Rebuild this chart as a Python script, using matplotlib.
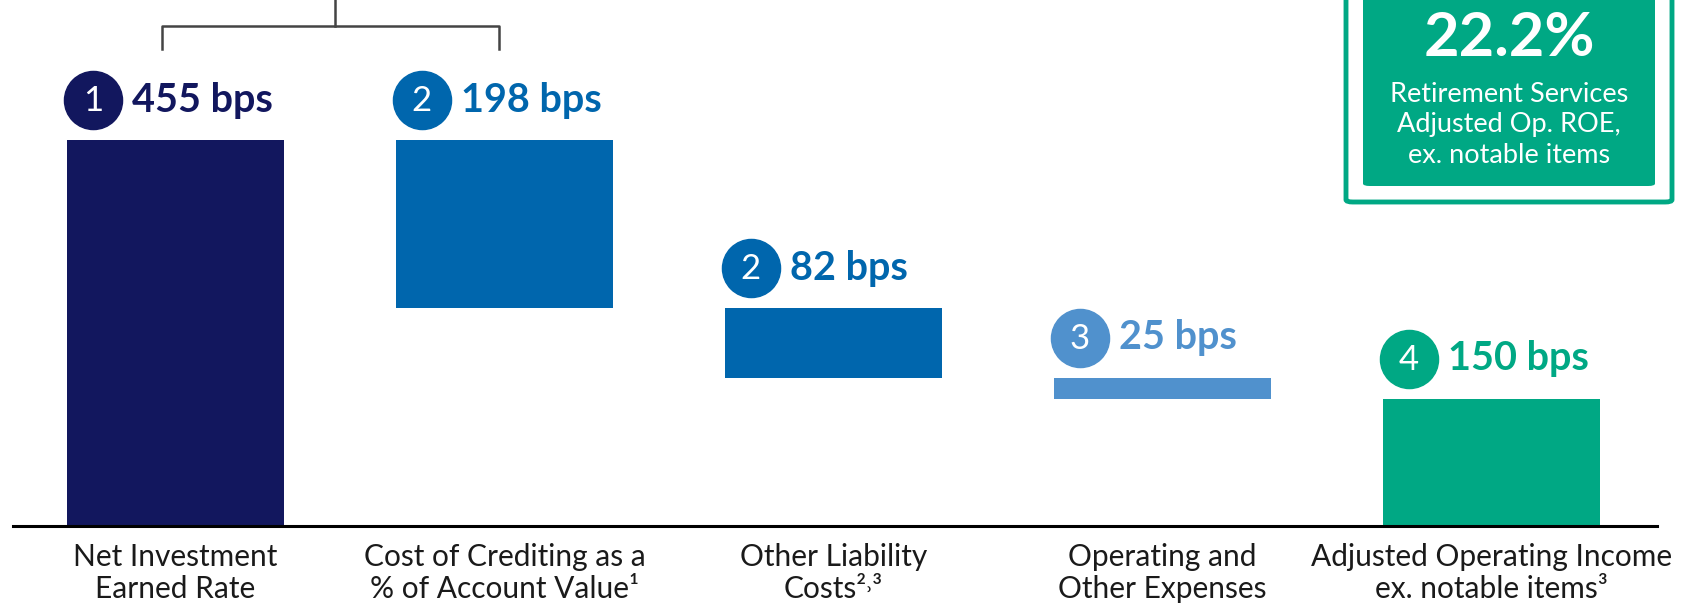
import matplotlib
matplotlib.use("Agg")
import matplotlib.pyplot as plt
import matplotlib.patches as mpatches
import numpy as np

plt.rcParams['font.family'] = ['Lato', 'DejaVu Sans']

# data
categories = [("Net Investment", "Earned Rate"),
              ("Cost of Crediting as a", "% of Account Value\u00b9"),
              ("Other Liability", "Costs\u00b2\u02d2\u00b3"),
              ("Operating and", "Other Expenses"),
              ("Adjusted Operating Income", "ex. notable items\u00b3")]
values = [455, 198, 82, 25, 150]
steps = ["1", "2", "2", "3", "4"]
colors = ["#12175E", "#0066AD", "#0066AD", "#5091CD", "#00A884"]
roe_value = "22.2%"
roe_lines = ["Retirement Services", "Adjusted Op. ROE,", "ex. notable items"]

# waterfall bottoms
bottoms = [0]
level = values[0]
for v in values[1:-1]:
    level -= v
    bottoms.append(level)
bottoms.append(0)
tops = [b + v for b, v in zip(bottoms, values)]

W, H = 1694, 603
fig = plt.figure(figsize=(W / 100, H / 100), dpi=100)
ax = fig.add_axes([0, 0, 1, 1])
ax.set_xlim(-0.533, 4.615)
ax.set_ylim(-90.8, 620.3)
ax.axis('off')

x = np.arange(len(values))
bw = 0.66
ax.bar(x, values, bottom=bottoms, width=bw, color=colors, zorder=2)

# baseline
ax.axhline(0, xmin=13 / W, xmax=1657 / W, color='black', lw=2.2, zorder=3)

# step circles + value labels
for i in range(len(values)):
    left = x[i] - bw / 2
    ly = tops[i] + 47
    ax.scatter(left + 0.079, ly, s=1750, color=colors[i], zorder=4, clip_on=False)
    ax.text(left + 0.079, ly - 1, steps[i], color='white', fontsize=25,
            ha='center', va='center', zorder=5)
    ax.text(left + 0.198, ly, f"{values[i]} bps", color=colors[i], fontsize=28.5,
            fontweight='bold', ha='left', va='center', zorder=5)
    # category label, two lines (pixel rows 557 and 589 from top)
    for j, line in enumerate(categories[i]):
        ax.text(x[i], -(557 + 32 * j - 526) / 0.848, line, fontsize=21.5,
                color='#1a1a1a', ha='center', va='center')

# bracket over first two bars
ax.plot([-0.041, -0.041, 0.983, 0.983], [562, 590, 590, 562], color='#444444',
        lw=1.8, clip_on=False)
ax.plot([0.485, 0.485], [590, 640], color='#444444', lw=1.8, clip_on=False)

# ROE box
outer = mpatches.FancyBboxPatch((1346 / W, 1 - 202 / H), (1672 - 1346) / W, 0.5,
                                boxstyle="round,pad=0,rounding_size=0.004",
                                transform=fig.transFigure, facecolor='white',
                                edgecolor='#00A884', lw=3.5)
inner = mpatches.FancyBboxPatch((1363 / W, 1 - 186 / H), (1655 - 1363) / W, 0.5,
                                boxstyle="round,pad=0,rounding_size=0.004",
                                transform=fig.transFigure, facecolor='#00A884',
                                edgecolor='none')
fig.patches.extend([outer, inner])
cx = (1363 + 1655) / 2 / W
fig.text(cx, 1 - 38 / H, roe_value, color='white', fontsize=44, fontweight='bold',
         ha='center', va='center')
for j, line in enumerate(roe_lines):
    fig.text(cx, 1 - (94 + 30.5 * j) / H, line, color='white', fontsize=19.5,
             ha='center', va='center')

fig.savefig("out.png", dpi=100)
